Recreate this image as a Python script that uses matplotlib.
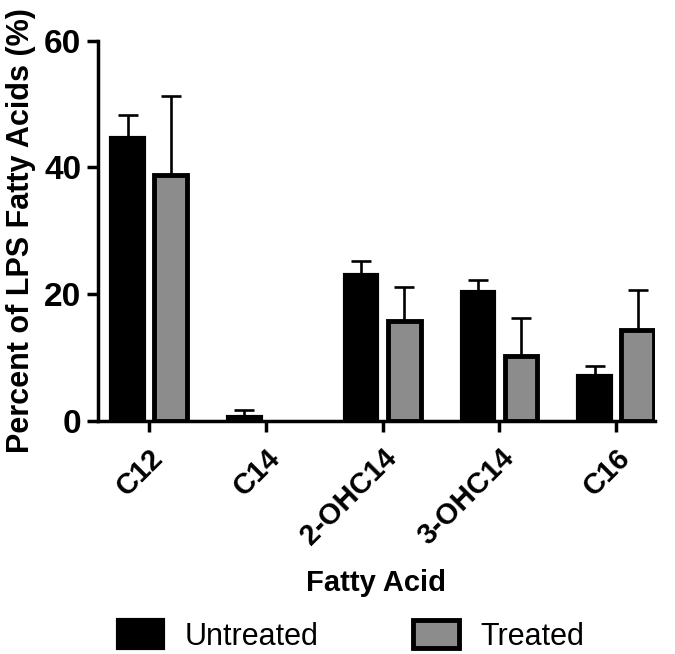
"""
Fatty acid composition of LPS, untreated vs treated
"""
import matplotlib
matplotlib.use('Agg')
import matplotlib.pyplot as plt
import numpy as np

plt.rcParams['font.family'] = ['Liberation Sans', 'DejaVu Sans']

fatty_acids = ['C12', 'C14', '2-OHC14', '3-OHC14', 'C16']
untreated = [44.6, 0.7, 23.0, 20.4, 7.1]
untreated_sd = [3.7, 1.1, 2.3, 1.8, 1.6]
treated = [38.8, np.nan, 15.8, 10.2, 14.3]   # C14 not detected after treatment
treated_sd = [12.5, 0.0, 5.3, 6.1, 6.4]

x = np.arange(len(fatty_acids))
width = 0.28
offset = 0.185

fig = plt.figure(figsize=(6.75, 6.54), dpi=100)
ax = fig.add_axes([0.145, 0.356, 0.825, 0.582])

ax.bar(x - offset, untreated, width, color='black', edgecolor='black',
       linewidth=3, label='Untreated', zorder=3)
ax.bar(x + offset, treated, width, color='#8c8c8c', edgecolor='black',
       linewidth=3.5, label='Treated', zorder=3)

# upward-only error bars
ax.errorbar(x - offset, untreated, yerr=[np.zeros(len(x)), untreated_sd],
            fmt='none', ecolor='black', elinewidth=1.9, capsize=7, capthick=1.9, zorder=2)
ax.errorbar(x + offset, treated, yerr=[np.zeros(len(x)), treated_sd],
            fmt='none', ecolor='black', elinewidth=1.9, capsize=7, capthick=1.9, zorder=2)

ax.set_xlim(-0.44, 4.33)
ax.set_ylim(0, 60)
ax.set_yticks([0, 20, 40, 60])
ax.set_xticks(x)
ax.set_xticklabels(fatty_acids, rotation=45, ha='right', rotation_mode='anchor',
                   fontsize=21, fontweight='bold')
for lbl in ax.get_yticklabels():
    lbl.set_fontsize(24)
    lbl.set_fontweight('bold')

ax.spines['top'].set_visible(False)
ax.spines['right'].set_visible(False)
ax.spines['left'].set_linewidth(2.5)
ax.spines['bottom'].set_linewidth(2.5)
ax.tick_params(axis='both', direction='out', length=8, width=2.5, pad=4)
ax.tick_params(axis='x', pad=8)

ax.set_ylabel('Percent of LPS Fatty Acids (%)', fontsize=22, fontweight='bold', labelpad=6)
fig.text(0.5 * (0.145 + 0.97), 1 - 583 / 654, 'Fatty Acid', ha='center', va='center',
         fontsize=21, fontweight='bold')

fig.legend(loc='center', bbox_to_anchor=(0.52, 1 - 636 / 654), ncol=2, frameon=False,
           fontsize=22, handlelength=1.5, handleheight=1.0, columnspacing=3.1,
           handletextpad=0.7)

plt.savefig('out.png', dpi=100)
